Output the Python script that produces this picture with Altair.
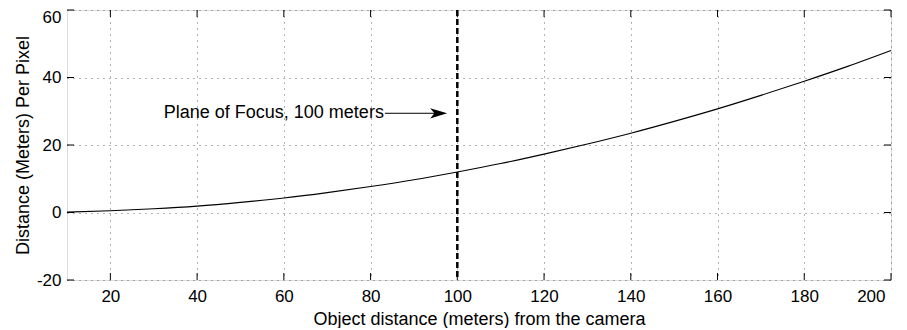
import altair as alt
import pandas as pd

# Curve values
distance_m = [10, 20, 30, 40, 50, 60, 70, 80, 90, 100, 110, 120, 130, 140, 150, 160, 170, 180, 190, 200]
per_pixel_m = [0.1, 0.5, 1.1, 1.9, 3.0, 4.3, 5.9, 7.7, 9.7, 12.0, 14.5, 17.3, 20.3, 23.5, 27.0, 30.7, 34.7, 38.9, 43.3, 48.0]

x_ticks = [20, 40, 60, 80, 100, 120, 140, 160, 180, 200]
y_ticks = [-20, 0, 20, 40, 60]

focus_distance = [100]
annotation_text = ["Plane of Focus, 100 meters"]
annotation_x = [83.3]
annotation_y = [29.4]
arrow_end_x = [95.7]

W, H = 824, 270
FONT = "Liberation Sans"

curve_df = pd.DataFrame({"d": distance_m, "p": per_pixel_m})
xt_df = pd.DataFrame({"t": x_ticks})
yt_df = pd.DataFrame({"t": y_ticks})
focus_df = pd.DataFrame({"d": focus_distance})
ann_df = pd.DataFrame({"x": annotation_x, "y": annotation_y, "x2": arrow_end_x,
                       "label": annotation_text})

xscale = alt.Scale(domain=[10, 200], nice=False, zero=False)
yscale = alt.Scale(domain=[-20, 60], nice=False, zero=False)

xaxis = alt.Axis(values=x_ticks, title="Object distance (meters) from the camera",
                 grid=True, gridDash=[1, 5], gridColor="#666", gridWidth=1,
                 domain=False, ticks=False, labelFontSize=17, labelFont=FONT,
                 labelColor="black", labelPadding=8, titleFont=FONT, titleFontSize=18,
                 titleFontWeight="normal", titleColor="black", titlePadding=6,
                 labelExpr="toString(datum.value)",
                 labelOffset={"condition": {"test": "datum.value == 200", "value": -6}, "value": 0})
yaxis = alt.Axis(values=y_ticks, title="Distance (Meters) Per Pixel",
                 grid=True, gridDash=[1, 5], gridColor="#666", gridWidth=1,
                 domain=False, ticks=False, labelFontSize=17, labelFont=FONT,
                 labelColor="black", labelPadding=6, titleFont=FONT, titleFontSize=18,
                 titleFontWeight="normal", titleColor="black", titlePadding=4,
                 labelExpr="toString(datum.value)",
                 labelOffset={"condition": {"test": "datum.value == 60", "value": 7}, "value": 0})

curve = alt.Chart(curve_df).mark_line(color="black", strokeWidth=1.1, interpolate="monotone").encode(
    x=alt.X("d:Q", scale=xscale, axis=xaxis),
    y=alt.Y("p:Q", scale=yscale, axis=yaxis),
)

tick_len = 7
xt_bottom = alt.Chart(xt_df).mark_rule(color="black", strokeWidth=1).encode(
    x=alt.X("t:Q", scale=xscale), y=alt.value(H), y2=alt.value(H - tick_len))
xt_top = alt.Chart(xt_df).mark_rule(color="black", strokeWidth=1).encode(
    x=alt.X("t:Q", scale=xscale), y=alt.value(0), y2=alt.value(tick_len))
yt_left = alt.Chart(yt_df).mark_rule(color="black", strokeWidth=1).encode(
    y=alt.Y("t:Q", scale=yscale), x=alt.value(0), x2=alt.value(tick_len))
yt_right = alt.Chart(yt_df).mark_rule(color="black", strokeWidth=1).encode(
    y=alt.Y("t:Q", scale=yscale), x=alt.value(W), x2=alt.value(W - tick_len))

focus = alt.Chart(focus_df).mark_rule(color="black", strokeWidth=2.5, strokeDash=[6, 3]).encode(
    x=alt.X("d:Q", scale=xscale), y=alt.value(0), y2=alt.value(H))

arrow_line = alt.Chart(ann_df).mark_rule(color="black", strokeWidth=1).encode(
    x=alt.X("x:Q", scale=xscale), x2="x2:Q", y=alt.Y("y:Q", scale=yscale))
arrow_head = alt.Chart(ann_df).mark_point(
    shape="M1,0 L-1,-0.6 L-0.5,0 L-1,0.6 Z", filled=True, color="black",
    size=289, opacity=1, strokeWidth=0).encode(
    x=alt.X("x2:Q", scale=xscale), y=alt.Y("y:Q", scale=yscale))
ann_text = alt.Chart(ann_df).mark_text(align="right", baseline="middle", font=FONT,
                                       fontSize=18, color="black", dx=-1).encode(
    x=alt.X("x:Q", scale=xscale), y=alt.Y("y:Q", scale=yscale), text="label:N")

chart = alt.layer(curve, xt_bottom, xt_top, yt_left, yt_right, focus,
                  arrow_line, arrow_head, ann_text).properties(
    width=W, height=H,
    autosize=alt.AutoSizeParams(type="none"),
    padding={"left": 59, "top": 2, "right": 8, "bottom": 48},
).configure_view(stroke="black", strokeWidth=1).configure(background="white")

chart.save("out.html", embed_options={"renderer": "svg", "actions": False})
